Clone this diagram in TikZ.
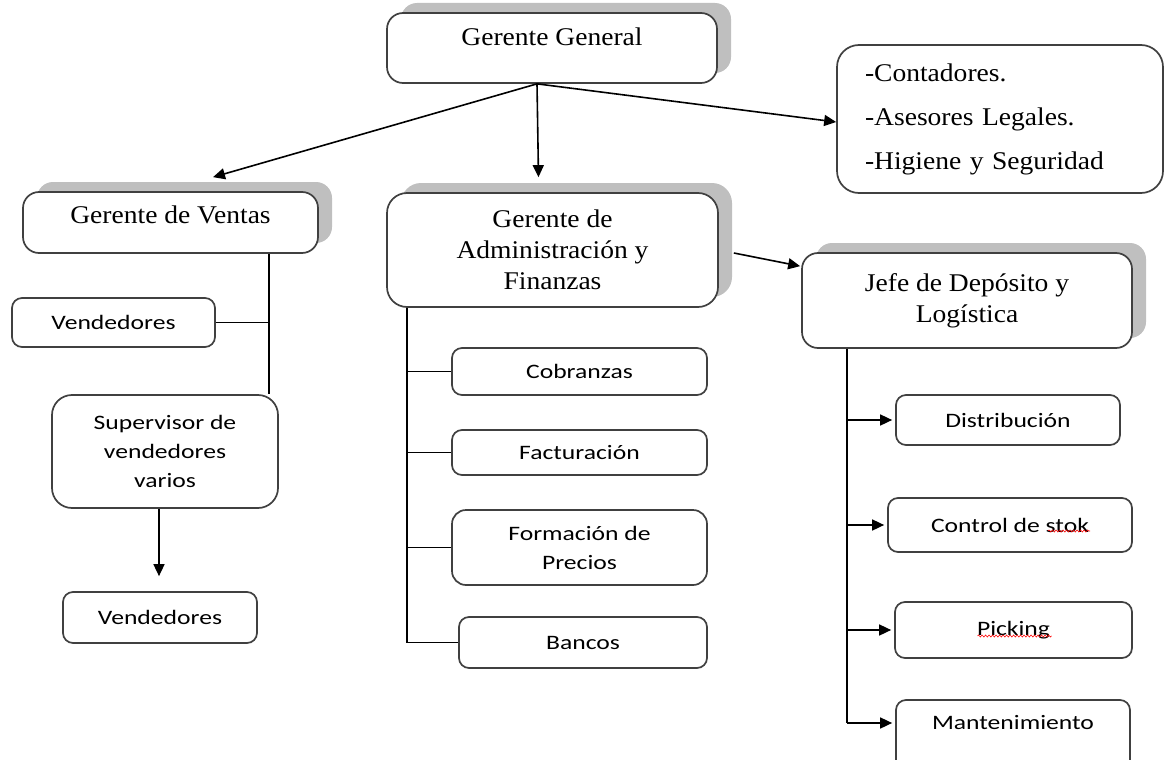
\documentclass[tikz,border=0pt]{standalone}
\usepackage{fontspec}
\setmainfont[FakeStretch=1.08]{Liberation Serif}
\newfontfamily\sansbox[FakeStretch=1.25]{Carlito}
\usepackage{tikz}
\usetikzlibrary{calc}
\usetikzlibrary{positioning}
\usetikzlibrary{shadows}
\usetikzlibrary{arrows.meta}
\usetikzlibrary{decorations.pathmorphing}
\tikzstyle{caja} = [draw=black!75, line width=1.7pt, fill=white, inner sep=0pt, align=center]
\tikzstyle{jefe} = [caja, rounded corners=16pt, font=\fontsize{25.5}{31}\selectfont, drop shadow={shadow xshift=14pt, shadow yshift=10pt, fill=black!25, opacity=1}]
\tikzstyle{staff} = [caja, rounded corners=22pt, font=\fontsize{25.5}{44}\selectfont, align=left, inner xsep=28pt]
\tikzstyle{area} = [caja, rounded corners=10pt, font=\sansbox\fontsize{20.5}{29}\selectfont]
\tikzstyle{linea} = [-, line width=1.6pt]
\tikzstyle{flecha} = [-{Triangle[length=12pt, width=11pt]}, line width=1.6pt]
\tikzstyle{errata} = [red, line width=0.6pt, decorate, decoration={snake, amplitude=1pt, segment length=3.5pt}]

\begin{document}
\begin{tikzpicture}[x=1pt, y=-1pt]
\useasboundingbox (0,0) rectangle (1165,760);
\clip (0,0) rectangle (1165,760);

% gerencias
\node[jefe, minimum width=330pt, minimum height=70pt, text depth=22pt](GG) at (552,48) {Gerente General};
\node[staff, minimum height=148pt, text width=270pt](AS) at (1000,119) {-Contadores.\\-Asesores Legales.\\-Higiene y Seguridad};
\node[jefe, minimum width=295pt, minimum height=61pt, text depth=15pt](GV) at (170.5,222.5) {Gerente de Ventas};
\node[jefe, rounded corners=20pt, minimum width=331pt, minimum height=114pt](GAF) at (552.5,250) {Gerente de\\Administración y\\Finanzas};
\node[jefe, minimum width=330pt, minimum height=95pt](JDL) at (967,300.5) {Jefe de Depósito y\\Logística};

% ventas
\node[area, minimum width=203pt, minimum height=49pt](V1) at (113.5,322.5) {Vendedores};
\node[area, rounded corners=20pt, minimum width=226pt, minimum height=113pt](SV) at (165,451.5) {Supervisor de\\vendedores\\varios};
\node[area, minimum width=194pt, minimum height=51pt](V2) at (160,617.5) {Vendedores};

% administracion
\node[area, minimum width=255pt, minimum height=47pt](CO) at (579.5,371.5) {Cobranzas};
\node[area, minimum width=255pt, minimum height=45pt](FA) at (579.5,452.5) {Facturación};
\node[area, rounded corners=14pt, minimum width=255pt, minimum height=75pt](FP) at (579.5,547.5) {Formación de\\Precios};
\node[area, minimum width=248pt, minimum height=51pt](BA) at (583,642.5) {Bancos};

% deposito
\node[area, minimum width=224pt, minimum height=50pt](DI) at (1008,420) {Distribución};
\node[area, minimum width=244pt, minimum height=54pt](CS) at (1010,525) {Control de stok};
\node[area, minimum width=237pt, minimum height=56pt](PI) at (1013.5,630) {Picking};
\node[area, minimum width=234pt, minimum height=70pt, text depth=25pt](MA) at (1013,735) {Mantenimiento};
\draw[errata] ([xshift=38pt, yshift=-6pt]CS.center) -- ([xshift=80pt, yshift=-6pt]CS.center);
\draw[errata] ([xshift=-36pt, yshift=-6pt]PI.center) -- ([xshift=38pt, yshift=-6pt]PI.center);

% desde gerente general
\coordinate (GGf) at ([xshift=-15pt]GG.south);
\draw[flecha] (GGf) -- ([xshift=42.5pt, yshift=14pt]GV.north);
\draw[flecha] (GGf) -- ([xshift=-14pt, yshift=15pt]GAF.north);
\draw[flecha] (GGf) -- ([yshift=-3pt]AS.west);
\draw[flecha] ([xshift=15pt, yshift=-3pt]GAF.east) -- ([xshift=-1pt, yshift=-14pt]JDL.north west);

% rama ventas
\coordinate (GVt) at ([xshift=-50pt]GV.south east);
\draw[linea] (GVt) -- (GVt |- SV.north);
\draw[linea] (V1.east) -- (V1.east -| GVt);
\draw[flecha] ([xshift=-6pt]SV.south) -- ([xshift=-1pt, yshift=15pt]V2.north);

% rama administracion
\coordinate (GAFt) at ([xshift=21pt]GAF.south west);
\draw[linea] (GAFt) -- (GAFt |- BA.west);
\foreach \n in {CO, FA, FP, BA}
    \draw[linea] (GAFt |- \n.west) -- (\n.west);

% rama deposito
\coordinate (JDLt) at ([xshift=46pt]JDL.south west);
\coordinate (MAin) at ([yshift=12pt]MA.west);
\draw[linea] (JDLt) -- (JDLt |- MAin);
\foreach \n in {DI, CS, PI}
    \draw[flecha, shorten >=3pt] (JDLt |- \n.west) -- (\n.west);
\draw[flecha, shorten >=3pt] (JDLt |- MAin) -- (MAin);
\end{tikzpicture}
\end{document}
